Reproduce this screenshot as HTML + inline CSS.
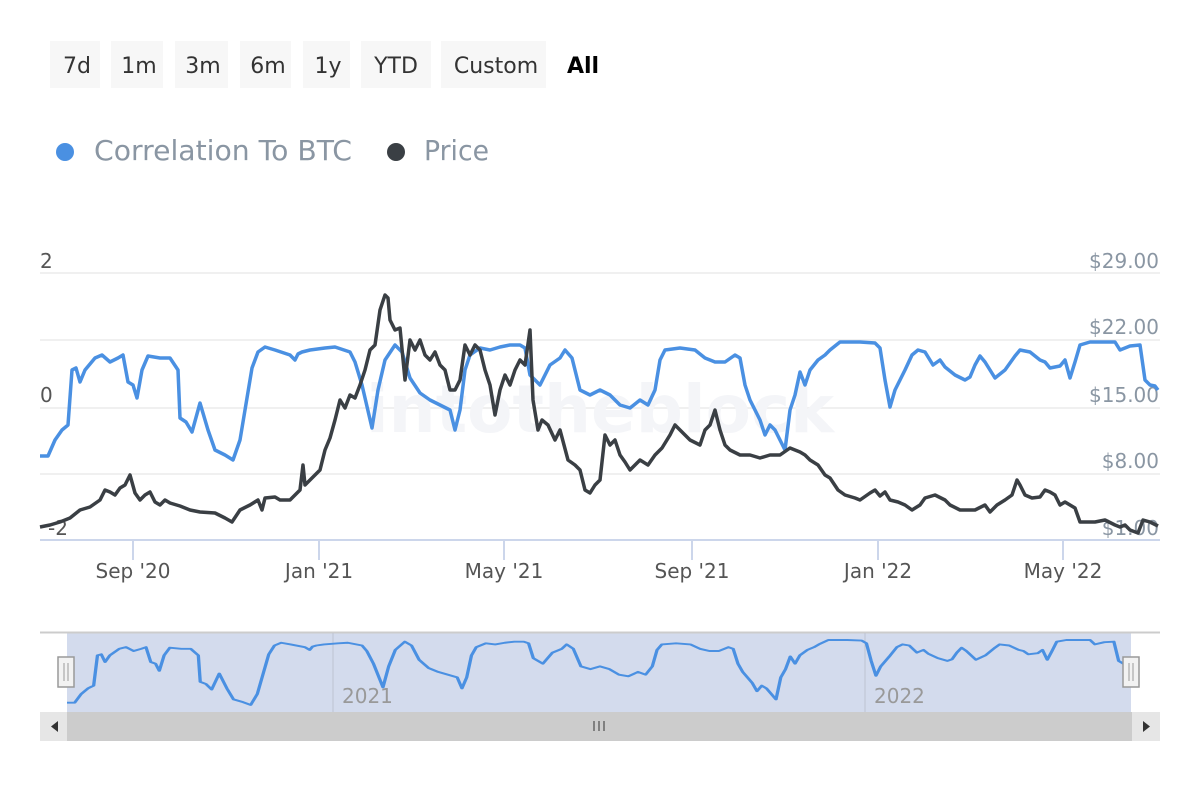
<!DOCTYPE html>
<html><head><meta charset="utf-8"><style>
body{margin:0;background:#fff;width:1200px;height:800px;overflow:hidden;font-family:"DejaVu Sans",sans-serif}
</style></head><body>
<svg width="1200" height="800" xmlns="http://www.w3.org/2000/svg" font-family="DejaVu Sans, sans-serif">
<defs>
<polyline id="blue" fill="none" stroke="#4a90e2" stroke-width="3.5" stroke-linejoin="round" points="40,456 48,456 55,440 62,430 68,425 72,370 76,368 80,382 85,370 95,358 102,355 110,362 118,358 123,355 128,382 133,385 137,398 142,370 148,356 160,358 170,358 178,370 180,418 186,422 192,432 200,403 208,430 215,450 225,455 233,460 240,440 245,410 252,368 258,352 265,347 275,350 290,355 295,360 298,354 302,352 310,350 325,348 335,347 350,352 355,362 362,385 372,428 378,390 385,360 395,345 402,352 410,378 420,393 430,400 440,405 450,410 455,430 460,410 465,370 470,355 480,348 490,350 500,347 510,345 520,345 525,348 530,375 540,385 550,365 560,358 565,350 572,358 580,390 590,395 600,390 610,395 620,405 630,408 640,400 648,405 655,390 660,360 665,350 680,348 695,350 705,358 715,362 725,362 735,355 740,358 745,385 750,400 760,420 765,435 770,425 775,430 780,440 785,450 790,410 795,395 800,372 805,385 810,370 818,360 825,355 830,350 840,342 860,342 875,343 880,348 885,380 890,407 895,390 900,380 905,370 912,355 918,350 925,352 933,365 940,360 945,367 955,375 965,380 970,377 975,365 980,356 985,362 990,370 995,378 1005,370 1015,356 1020,350 1030,352 1040,360 1045,362 1050,368 1060,366 1065,360 1070,378 1075,362 1080,345 1090,342 1100,342 1115,342 1120,350 1130,346 1140,345 1145,380 1150,385 1155,386 1158,390"/>
</defs>
<g font-size="22" fill="#333">
<rect x="50" y="41" width="50" height="47" fill="#f7f7f7"/><text x="77" y="73" text-anchor="middle">7d</text>
<rect x="111" y="41" width="52" height="47" fill="#f7f7f7"/><text x="139" y="73" text-anchor="middle">1m</text>
<rect x="175" y="41" width="53" height="47" fill="#f7f7f7"/><text x="203" y="73" text-anchor="middle">3m</text>
<rect x="240" y="41" width="51" height="47" fill="#f7f7f7"/><text x="268" y="73" text-anchor="middle">6m</text>
<rect x="303" y="41" width="47" height="47" fill="#f7f7f7"/><text x="328" y="73" text-anchor="middle">1y</text>
<rect x="361" y="41" width="70" height="47" fill="#f7f7f7"/><text x="396" y="73" text-anchor="middle">YTD</text>
<rect x="441" y="41" width="105" height="47" fill="#f7f7f7"/><text x="496" y="73" text-anchor="middle">Custom</text>
<text x="583" y="73" text-anchor="middle" font-weight="bold" fill="#000">All</text>
</g>
<circle cx="65" cy="152" r="9" fill="#4a90e2"/>
<text x="94" y="160" font-size="28" fill="#8a96a3" textLength="258" lengthAdjust="spacingAndGlyphs">Correlation To BTC</text>
<circle cx="396" cy="152" r="9" fill="#3a3f44"/>
<text x="424" y="160" font-size="28" fill="#8a96a3" textLength="65" lengthAdjust="spacingAndGlyphs">Price</text>
<g stroke="#f0f0f0" stroke-width="2">
<line x1="40" y1="273" x2="1160" y2="273"/><line x1="40" y1="340" x2="1160" y2="340"/>
<line x1="40" y1="408" x2="1160" y2="408"/><line x1="40" y1="474" x2="1160" y2="474"/>
</g>
<text x="600" y="432" font-size="66" font-weight="bold" fill="#f4f5f8" text-anchor="middle">intotheblock</text>
<line x1="40" y1="540" x2="1160" y2="540" stroke="#ccd6eb" stroke-width="2"/>
<g stroke="#ccd6eb" stroke-width="2">
<line x1="133" y1="540" x2="133" y2="560"/><line x1="319" y1="540" x2="319" y2="560"/><line x1="504" y1="540" x2="504" y2="560"/><line x1="692" y1="540" x2="692" y2="560"/><line x1="878" y1="540" x2="878" y2="560"/><line x1="1063" y1="540" x2="1063" y2="560"/>
</g>
<g font-size="20" fill="#555" text-anchor="middle">
<text x="133" y="578">Sep '20</text><text x="319" y="578">Jan '21</text><text x="504" y="578">May '21</text><text x="692" y="578">Sep '21</text><text x="878" y="578">Jan '22</text><text x="1063" y="578">May '22</text>
</g>
<g font-size="20" fill="#555"><text x="40" y="268">2</text><text x="40" y="402">0</text><text x="48" y="535">-2</text></g>
<g font-size="20" fill="#8a96a3" text-anchor="end">
<text x="1159" y="268">$29.00</text><text x="1159" y="334">$22.00</text><text x="1159" y="402">$15.00</text><text x="1159" y="468">$8.00</text><text x="1159" y="535">$1.00</text>
</g>
<use href="#blue"/>
<polyline fill="none" stroke="#3a3f44" stroke-width="3.5" stroke-linejoin="round" points="40,527 50,525 60,522 70,518 80,510 90,507 100,500 105,490 110,492 115,495 120,488 125,485 130,475 135,493 140,500 145,495 150,492 155,502 160,505 165,500 170,503 180,506 190,510 200,512 215,513 225,518 232,522 240,510 250,505 258,500 262,510 265,498 275,497 280,500 290,500 300,490 303,465 305,485 312,478 320,470 325,450 330,438 335,420 340,400 345,408 350,395 355,398 360,385 365,370 370,350 375,345 380,310 385,295 388,298 390,320 395,330 400,328 405,380 410,340 415,350 420,340 425,355 430,360 435,352 440,365 445,370 450,390 455,390 460,380 465,345 470,355 475,345 480,350 485,370 490,385 495,415 500,390 505,375 510,385 515,370 520,360 525,365 530,330 533,400 538,430 542,420 548,425 555,440 560,430 568,460 575,465 580,470 585,490 590,493 595,485 600,480 605,435 610,445 615,440 620,455 625,462 630,470 640,460 648,465 655,455 662,448 670,435 675,425 680,430 690,440 700,445 705,430 710,425 715,410 720,430 725,445 730,450 740,455 750,455 760,458 770,455 780,455 790,448 800,452 805,455 810,460 818,465 825,475 830,478 838,490 845,495 855,498 860,500 870,493 875,490 880,496 885,492 890,500 898,502 905,505 912,510 920,505 925,498 935,495 945,500 950,505 960,510 975,510 985,505 990,512 997,505 1005,500 1012,495 1017,480 1020,485 1025,495 1032,498 1040,497 1045,490 1050,492 1055,495 1060,505 1065,502 1075,508 1080,522 1085,522 1095,522 1105,520 1115,525 1120,527 1125,525 1130,530 1138,533 1143,520 1150,522 1158,526"/>
<rect x="67" y="633" width="1064" height="79" fill="#d3dbed"/>
<line x1="40" y1="632.5" x2="1160" y2="632.5" stroke="#ccc" stroke-width="2"/>
<line x1="333" y1="633" x2="333" y2="712" stroke="#bcc3d1"/>
<line x1="865" y1="633" x2="865" y2="712" stroke="#bcc3d1"/>
<text x="342" y="703" font-size="20" fill="#999">2021</text>
<text x="874" y="703" font-size="20" fill="#999">2022</text>
<g transform="translate(67,640) scale(0.9517,0.55) translate(-40,-342)">
<use href="#blue" stroke-width="2" style="vector-effect:non-scaling-stroke"/>
</g>
<rect x="58" y="657" width="16" height="30" fill="#f2f2f2" stroke="#999" stroke-width="1.5"/>
<line x1="64" y1="663" x2="64" y2="681" stroke="#999"/><line x1="68" y1="663" x2="68" y2="681" stroke="#999"/>
<rect x="1123" y="657" width="16" height="30" fill="#f2f2f2" stroke="#999" stroke-width="1.5"/>
<line x1="1129" y1="663" x2="1129" y2="681" stroke="#999"/><line x1="1133" y1="663" x2="1133" y2="681" stroke="#999"/>
<rect x="40" y="712" width="1120" height="29" fill="#ccc"/>
<rect x="40" y="712" width="27" height="29" fill="#e6e6e6"/>
<rect x="1132" y="712" width="28" height="29" fill="#e6e6e6"/>
<polygon points="58,721 58,732 51,726.5" fill="#333"/>
<polygon points="1143,721 1143,732 1150,726.5" fill="#333"/>
<g stroke="#333"><line x1="594" y1="721" x2="594" y2="731"/><line x1="599" y1="721" x2="599" y2="731"/><line x1="604" y1="721" x2="604" y2="731"/></g>
</svg>
</body></html>
